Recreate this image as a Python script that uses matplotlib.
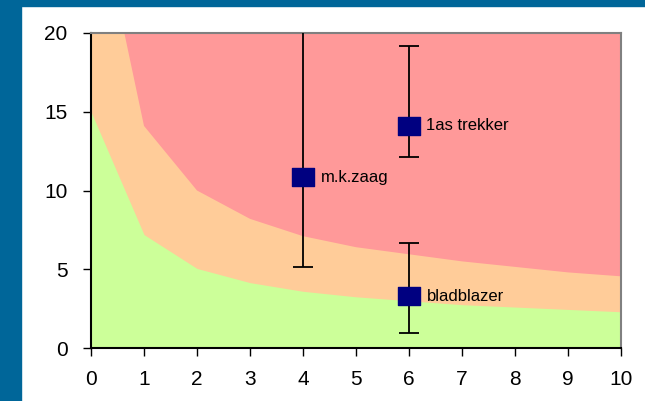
import matplotlib
matplotlib.use("Agg")
import matplotlib.pyplot as plt
from matplotlib.path import Path

# grenswaarden (geluidsbelasting) per x
x = [0, 1, 2, 3, 4, 5, 6, 7, 8, 9, 10]
groen = [15, 7.2, 5.05, 4.15, 3.6, 3.25, 3.0, 2.75, 2.6, 2.45, 2.3]
oranje = [30, 14.1, 10.0, 8.2, 7.1, 6.4, 5.95, 5.5, 5.15, 4.8, 4.55]

# meetpunten met spreiding
namen = ["m.k.zaag", "1as trekker", "bladblazer"]
px = [4, 6, 6]
py = [10.85, 14.1, 3.3]
laag = [5.15, 12.1, 0.95]
hoog = [27.0, 19.2, 6.65]

plt.rcParams["font.family"] = ["Liberation Sans", "DejaVu Sans"]

fig = plt.figure(figsize=(6.45, 4.01), dpi=100)
fig.patch.set_facecolor("white")

# blauwe rand links en boven
fig.patches.append(plt.Rectangle((0, 0), 21 / 645, 1, transform=fig.transFigure,
                                 color="#006699", zorder=0))
fig.patches.append(plt.Rectangle((0, 1 - 6 / 401), 1, 6 / 401, transform=fig.transFigure,
                                 color="#006699", zorder=0))

ax = fig.add_axes([91 / 645, 53 / 401, 530 / 645, 315 / 401])

ax.fill_between(x, 0, 20, color="#FF9999", lw=0, zorder=1)
ax.fill_between(x, 0, oranje, color="#FFCC99", lw=0, zorder=2)
ax.fill_between(x, 0, groen, color="#CCFF99", lw=0, zorder=3)

# rechthoekige marker
rect = Path([(-0.65, -0.5), (0.65, -0.5), (0.65, 0.5), (-0.65, 0.5), (-0.65, -0.5)],
            [Path.MOVETO, Path.LINETO, Path.LINETO, Path.LINETO, Path.CLOSEPOLY])

for i in range(3):
    ax.errorbar(px[i], py[i], yerr=[[py[i] - laag[i]], [hoog[i] - py[i]]],
                fmt="none", ecolor="black", elinewidth=1.3, capsize=7, capthick=1.3,
                zorder=4)
    ax.plot(px[i], py[i], marker=rect, markersize=16, color="#000080", ls="none", zorder=5)
    ax.text(px[i] + 0.33, py[i], namen[i], fontsize=12, va="center", ha="left", zorder=6)

ax.set_xlim(0, 10)
ax.set_ylim(0, 20)
ax.set_xticks(range(0, 11))
ax.set_yticks([0, 5, 10, 15, 20])
ax.tick_params(axis="both", labelsize=15, length=6, width=1, direction="out")
ax.tick_params(axis="x", pad=10)
ax.tick_params(axis="y", pad=11)

ax.spines["left"].set_color("black")
ax.spines["bottom"].set_color("black")
ax.spines["top"].set_color("#808080")
ax.spines["right"].set_color("#808080")
for s in ax.spines.values():
    s.set_linewidth(1.5)
    s.set_zorder(3.5)

fig.savefig("out.png", dpi=100)
